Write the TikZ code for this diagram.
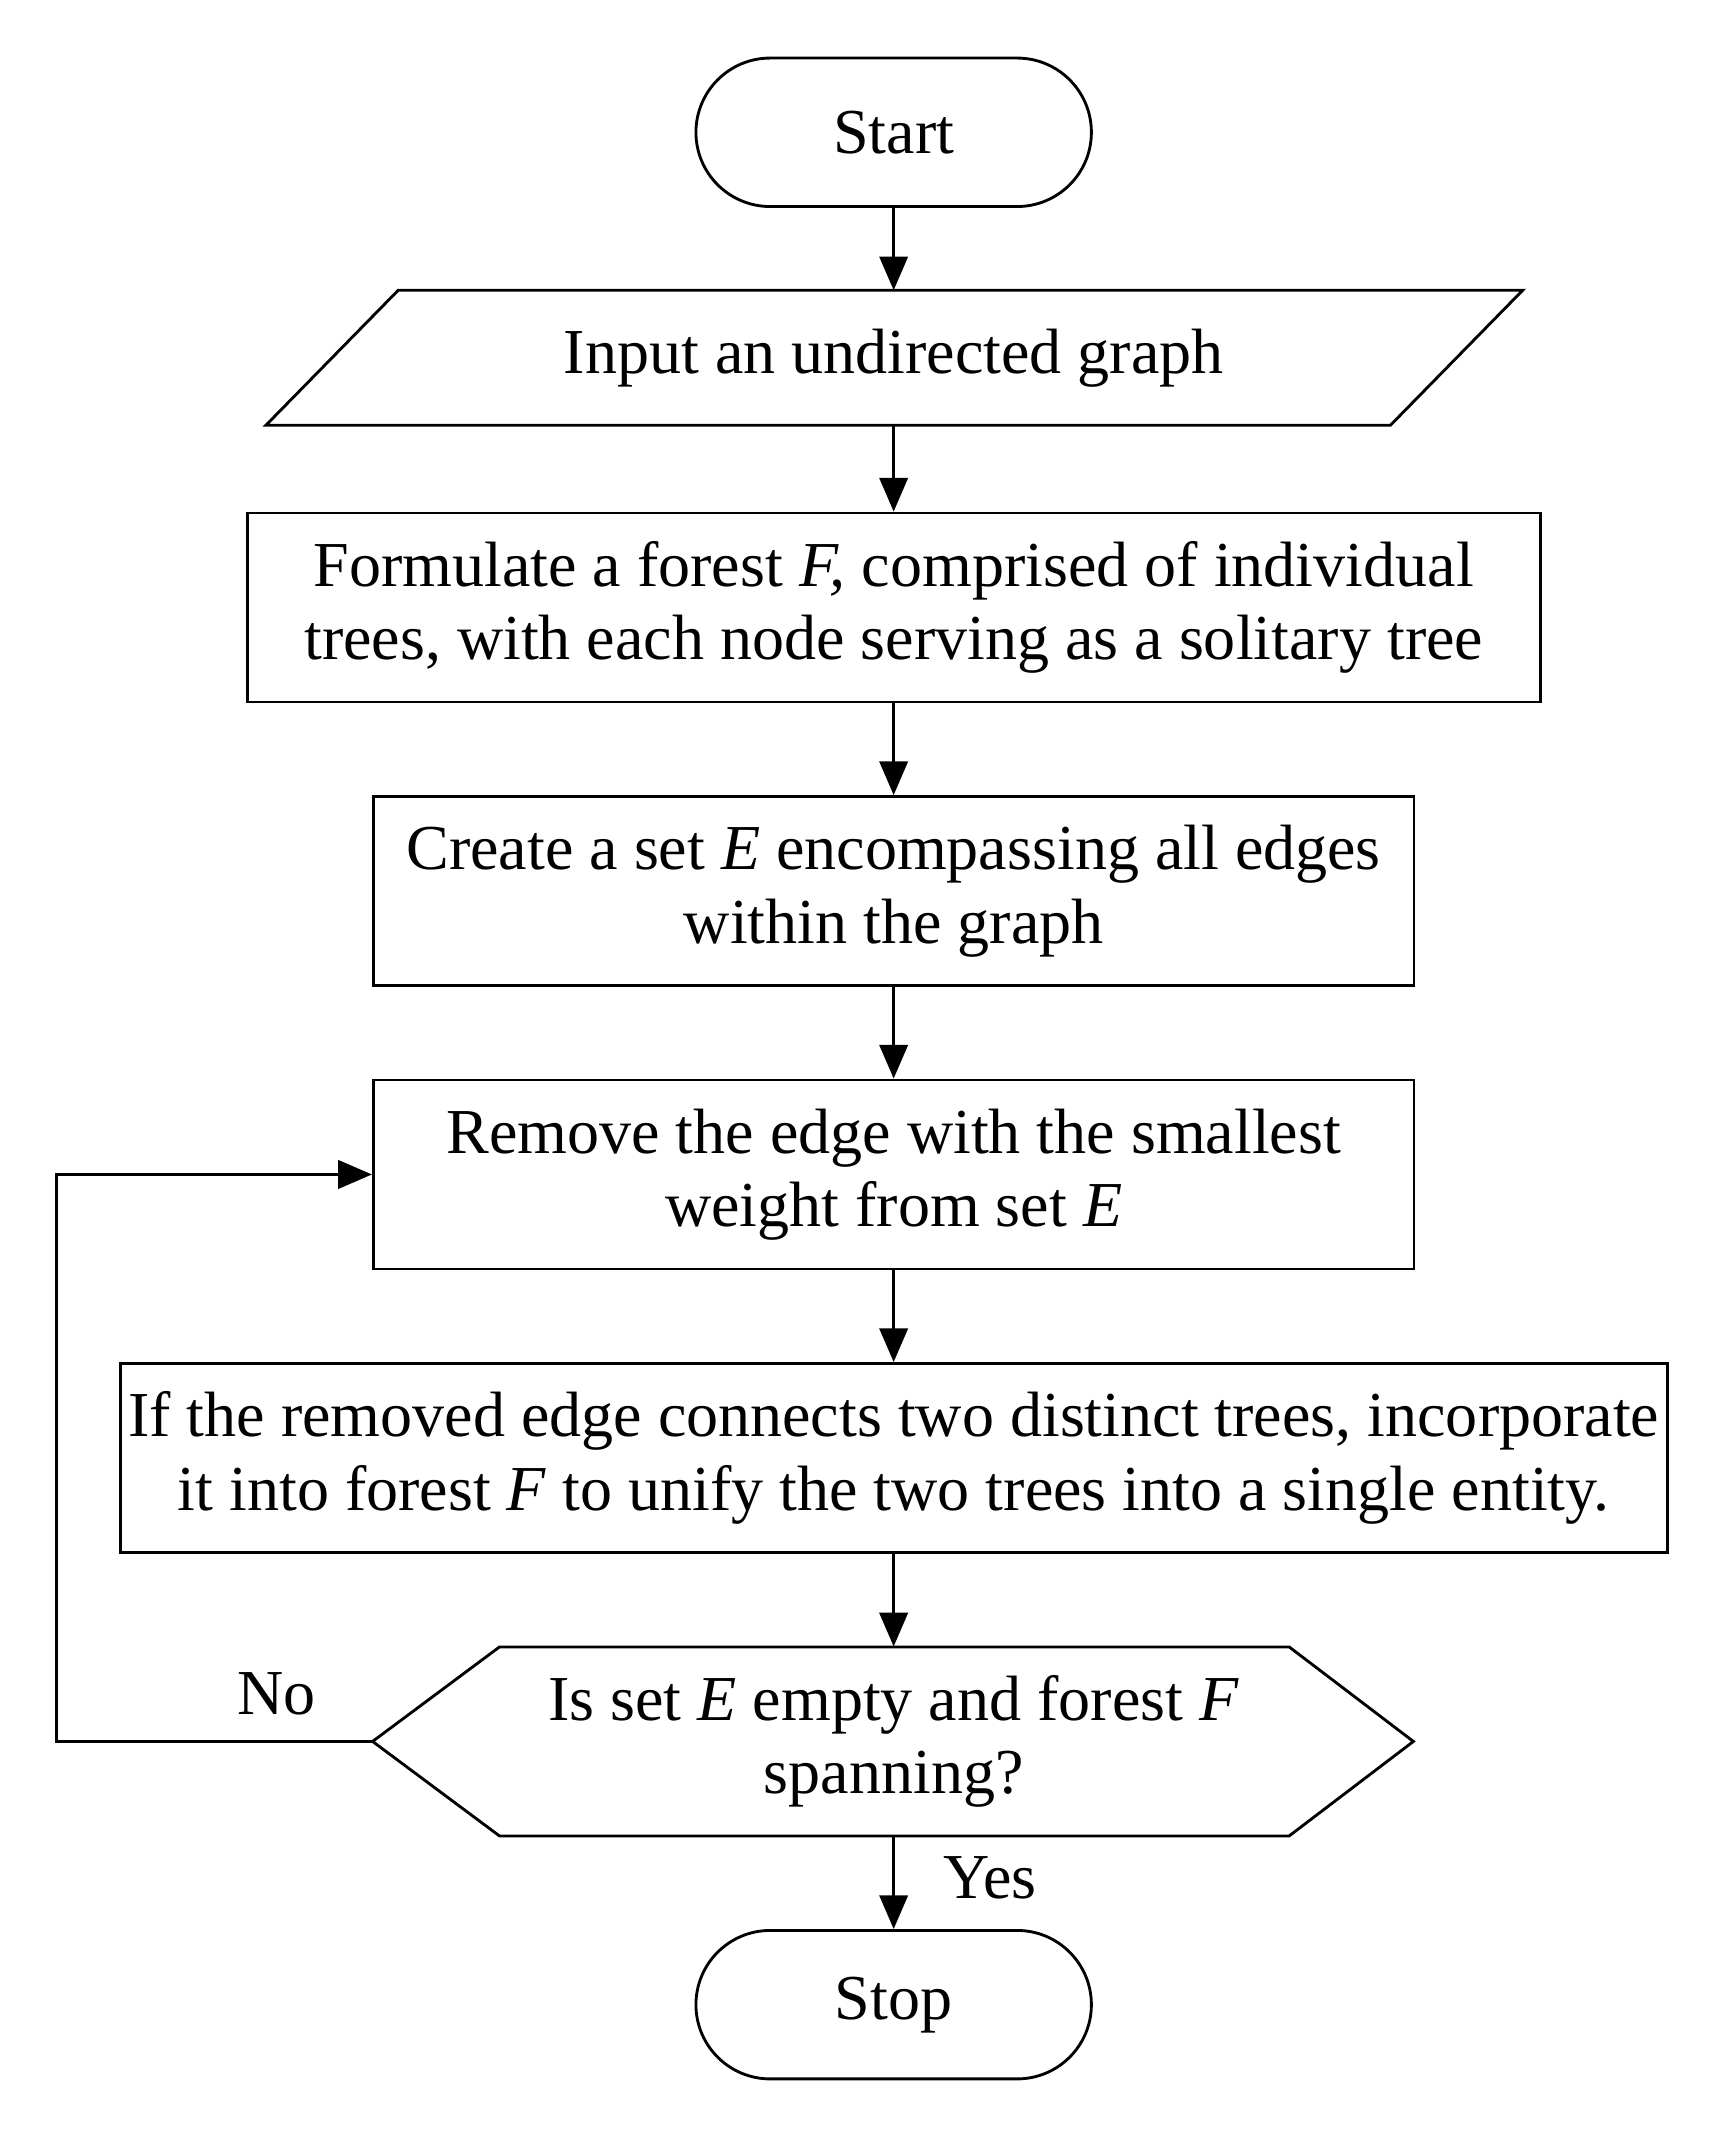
\documentclass[tikz,border=0pt]{standalone}
\usepackage{fontspec}
\setmainfont{Liberation Serif}
\usetikzlibrary{arrows.meta}

\begin{document}
\begin{tikzpicture}[x=0.02cm, y=-0.02cm, font=\fontsize{27}{31}\selectfont,
    box/.style={draw, line width=1.2pt, rectangle, align=center, minimum height=2.8cm},
    term/.style={draw, line width=1.2pt, rounded corners=1.1cm, minimum width=5.86cm, minimum height=2.2cm},
    flow/.style={-{Triangle[length=0.5cm, width=0.42cm]}, line width=1.2pt}]
    \useasboundingbox (0, 0) rectangle (1280, 1586);

    \node (start) [term] at (662, 98) {Start};
    \node (input) [minimum width=18.62cm, minimum height=2cm] at (662, 265) {Input an undirected graph};
    \draw[line width=1.2pt] (295, 215) -- (1128, 215) -- (1030, 315) -- (197, 315) -- cycle;
    \node (forest) [box, minimum width=19.16cm] at (662, 450) {Formulate a forest \textit{F,} comprised of individual\\trees, with each node serving as a solitary tree};
    \node (setE) [box, minimum width=15.42cm] at (662, 660) {Create a set \textit{E} encompassing all edges\\within the graph};
    \node (remove) [box, minimum width=15.42cm] at (662, 870) {Remove the edge with the smallest\\weight from set \textit{E}};
    \node (merge) [box, minimum width=22.92cm] at (662, 1080) {If the removed edge connects two distinct trees, incorporate\\it into forest \textit{F} to unify the two trees into a single entity.};
    \node (check) [align=center, minimum width=15.42cm, minimum height=2.8cm] at (662, 1290) {Is set \textit{E} empty and forest \textit{F}\\spanning?};
    \draw[line width=1.2pt] (370, 1220) -- (955, 1220) -- (1047, 1290) -- (955, 1360) -- (370, 1360) -- (276, 1290) -- cycle;
    \node (stop) [term] at (662, 1485) {Stop};

    \draw [flow] (start) -- (262, 215 -| start);
    \draw [flow] (662, 315) -- (forest);
    \draw [flow] (forest) -- (setE);
    \draw [flow] (setE) -- (remove);
    \draw [flow] (remove) -- (merge);
    \draw [flow] (merge) -- (check);
    \draw [flow] (check) -- (stop) node [pos=0.45, right=0.6cm] {Yes};
    \coordinate (back) at (42, 1290);
    \draw [flow] (check.west) -- (back) |- (remove.west);
    \node (no) at (205, 1255) {No};
\end{tikzpicture}
\end{document}
